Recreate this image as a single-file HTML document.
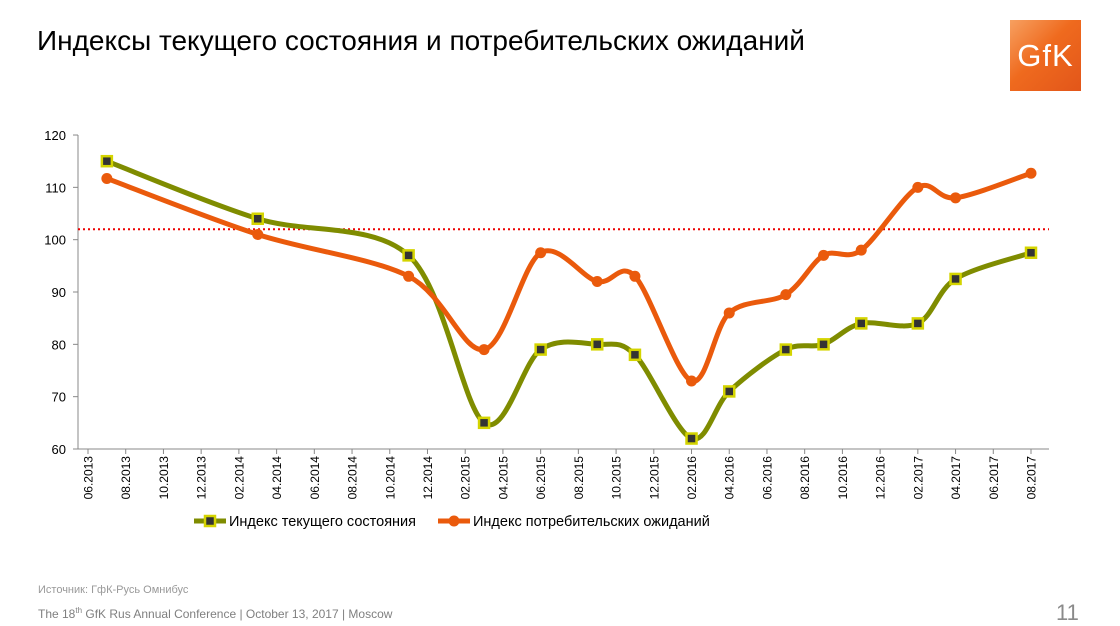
<!DOCTYPE html>
<html><head><meta charset="utf-8"><style>
body{margin:0;width:1120px;height:626px;background:#fff;font-family:"Liberation Sans",sans-serif;position:relative;overflow:hidden}
.t{position:absolute;left:37px;top:25px;font-size:28px;color:#000}
.logo{position:absolute;left:1010px;top:20px;width:71px;height:71px;background:linear-gradient(135deg,#f7a060,#ef6a1e 45%,#e2561a);color:#fff;font-size:31px;line-height:71px;text-align:center;letter-spacing:1px}
.src{position:absolute;left:38px;top:584px;font-size:11px;color:#999}
.conf{position:absolute;left:38px;top:606px;font-size:12px;color:#7f7f7f}
.pg{position:absolute;left:1056px;top:600px;font-size:22px;color:#8a8a8a}
</style></head><body>
<div class="t">Индексы текущего состояния и потребительских ожиданий</div>
<div class="logo">GfK</div>
<svg id="c" width="1120" height="626" style="position:absolute;left:0;top:0"></svg>
<div class="src">Источник: ГфК-Русь Омнибус</div>
<div class="conf">The 18<sup style="font-size:8px">th</sup> GfK Rus Annual Conference | October 13, 2017 | Moscow</div>
<div class="pg">11</div>
<script>
var s='';
function Y(v){return 449-(v-60)*5.233;}
function X(m){return 88+m*18.86;}
s+='<line x1="78" y1="135" x2="78" y2="449" stroke="#888"/><line x1="78" y1="449" x2="1049" y2="449" stroke="#888"/>';
for(var v=60;v<=120;v+=10){var y=Y(v);s+='<line x1="73" y1="'+y+'" x2="78" y2="'+y+'" stroke="#888"/><text x="66" y="'+(y+5)+'" font-size="13" text-anchor="end">'+v+'</text>';}
var labs=[];for(var yr=2013;yr<=2017;yr++)for(var mo=2;mo<=12;mo+=2){if(yr==2013&&mo<6)continue;if(yr==2017&&mo>8)continue;labs.push((mo<10?'0':'')+mo+'.'+yr);}
labs.forEach(function(l,i){var x=X(i*2);s+='<line x1="'+x+'" y1="449" x2="'+x+'" y2="454" stroke="#888"/><text transform="translate('+(x+4.5)+',456) rotate(-90)" font-size="12" text-anchor="end">'+l+'</text>';});
s+='<line x1="78" y1="'+Y(102)+'" x2="1049" y2="'+Y(102)+'" stroke="#e00" stroke-width="2" stroke-dasharray="2,3"/>';
var ms=[1,9,17,21,24,27,29,32,34,37,39,41,44,46,50];
var g=[115,104,97,65,79,80,78,62,71,79,80,84,84,92.5,97.5];
var o=[111.7,101,93,79,97.5,92,93,73,86,89.5,97,98,110,108,112.7];
function path(d){var p=ms.map(function(m,i){return [X(m),Y(d[i])];});var r='M'+p[0];
for(var i=0;i<p.length-1;i++){var a=p[i-1]||p[i],b=p[i],c=p[i+1],e=p[i+2]||c,t=0.3;
r+=' C'+(b[0]+(c[0]-a[0])*t/1.5*0.8)+','+(b[1]+(c[1]-a[1])*t/1.5*0.8)+' '+(c[0]-(e[0]-b[0])*t/1.5*0.8)+','+(c[1]-(e[1]-b[1])*t/1.5*0.8)+' '+c;}return r;}
s+='<path d="'+path(g)+'" fill="none" stroke="#7f8c00" stroke-width="5"/>';
s+='<path d="'+path(o)+'" fill="none" stroke="#ea5a0c" stroke-width="5"/>';
ms.forEach(function(m,i){s+='<rect x="'+(X(m)-5)+'" y="'+(Y(g[i])-5)+'" width="10" height="10" fill="#333" stroke="#d4d400" stroke-width="2.5"/>';
s+='<circle cx="'+X(m)+'" cy="'+Y(o[i])+'" r="5.5" fill="#ea5a0c"/>';});
s+='<line x1="194" y1="521" x2="226" y2="521" stroke="#7f8c00" stroke-width="5"/><rect x="205" y="516" width="10" height="10" fill="#333" stroke="#d4d400" stroke-width="2.5"/><text x="229" y="526" font-size="14.5">Индекс текущего состояния</text>';
s+='<line x1="438" y1="521" x2="470" y2="521" stroke="#ea5a0c" stroke-width="5"/><circle cx="454" cy="521" r="5.5" fill="#ea5a0c"/><text x="473" y="526" font-size="14.5">Индекс потребительских ожиданий</text>';
document.getElementById('c').innerHTML=s;
</script>
</body></html>
